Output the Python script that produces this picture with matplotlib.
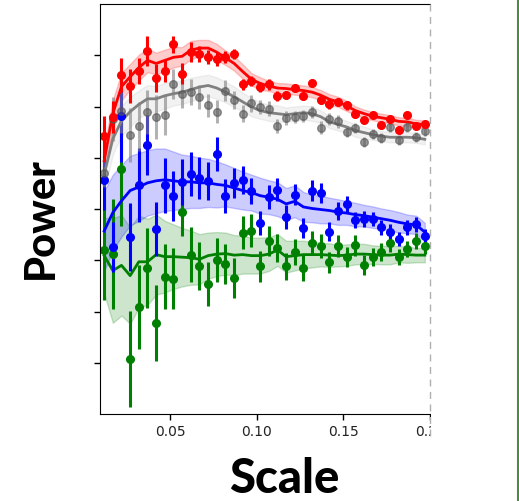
import numpy as np
import matplotlib
matplotlib.use("Agg")
import matplotlib.pyplot as plt
from matplotlib.lines import Line2D
from matplotlib.patches import Rectangle

# scale values (same grid for all four series)
scale = [0.012, 0.017, 0.022, 0.027, 0.032, 0.037, 0.042, 0.047, 0.052, 0.057,
         0.062, 0.067, 0.072, 0.077, 0.082, 0.087, 0.092, 0.097, 0.102, 0.107,
         0.112, 0.117, 0.122, 0.127, 0.132, 0.137, 0.142, 0.147, 0.152, 0.157,
         0.162, 0.167, 0.172, 0.177, 0.182, 0.187, 0.192, 0.197]

# red series
red_pts = [5.42, 5.80, 6.62, 6.40, 6.69, 7.08, 6.56, 6.69, 7.21, 6.64,
           7.06, 7.03, 6.97, 6.93, 6.97, 7.03, 6.43, 6.50, 6.38, 6.43,
           6.20, 6.22, 6.36, 6.20, 6.46, 6.12, 6.04, 6.09, 6.02, 5.86,
           5.73, 5.84, 5.63, 5.75, 5.55, 5.83, 5.61, 5.65]
red_err = [0.39, 0.31, 0.33, 0.33, 0.25, 0.29, 0.27, 0.21, 0.16, 0.20,
           0.20, 0.16, 0.14, 0.14, 0.12, 0.10, 0.10, 0.10, 0.10, 0.10,
           0.10, 0.08, 0.08, 0.08, 0.08, 0.08, 0.08, 0.08, 0.08, 0.08,
           0.06, 0.06, 0.06, 0.06, 0.06, 0.06, 0.06, 0.06]
red_fit = [4.94, 5.86, 6.39, 6.58, 6.76, 6.90, 6.84, 6.90, 6.96, 6.98,
           7.10, 7.14, 7.14, 7.06, 6.95, 6.84, 6.68, 6.53, 6.45, 6.40,
           6.36, 6.35, 6.33, 6.31, 6.28, 6.22, 6.14, 6.09, 6.01, 5.92,
           5.86, 5.81, 5.78, 5.75, 5.71, 5.70, 5.66, 5.65]
red_band = [0.27, 0.27, 0.27, 0.25, 0.25, 0.23, 0.21, 0.21, 0.20, 0.18,
            0.18, 0.16, 0.16, 0.16, 0.14, 0.14, 0.14, 0.12, 0.12, 0.10,
            0.10, 0.10, 0.10, 0.10, 0.10, 0.10, 0.10, 0.10, 0.10, 0.08,
            0.08, 0.08, 0.08, 0.08, 0.08, 0.08, 0.08, 0.08]

# gray series
gray_pts = [4.71, 5.75, 5.92, 5.44, 5.61, 5.90, 5.79, 5.84, 6.44, 6.24,
            6.28, 6.19, 6.02, 5.90, 6.31, 6.13, 5.86, 6.06, 5.99, 5.96,
            5.62, 5.78, 5.80, 5.81, 5.89, 5.59, 5.76, 5.71, 5.50, 5.58,
            5.31, 5.47, 5.39, 5.60, 5.35, 5.60, 5.40, 5.53]
gray_err = [0.29, 0.43, 0.43, 0.53, 0.47, 0.43, 0.43, 0.39, 0.29, 0.27,
            0.25, 0.23, 0.23, 0.23, 0.20, 0.18, 0.16, 0.16, 0.14, 0.14,
            0.14, 0.14, 0.12, 0.12, 0.12, 0.12, 0.12, 0.12, 0.10, 0.10,
            0.10, 0.10, 0.10, 0.10, 0.10, 0.10, 0.10, 0.10]
gray_fit = [4.67, 5.37, 5.72, 5.90, 6.04, 6.15, 6.15, 6.21, 6.25, 6.28,
            6.33, 6.38, 6.41, 6.36, 6.28, 6.19, 6.09, 5.99, 5.92, 5.88,
            5.86, 5.84, 5.86, 5.88, 5.86, 5.80, 5.70, 5.65, 5.60, 5.53,
            5.49, 5.45, 5.42, 5.40, 5.40, 5.40, 5.39, 5.36]
gray_band = [0.31, 0.31, 0.29, 0.29, 0.27, 0.27, 0.25, 0.25, 0.23, 0.23,
             0.23, 0.21, 0.21, 0.21, 0.20, 0.20, 0.18, 0.18, 0.16, 0.16,
             0.16, 0.14, 0.14, 0.14, 0.14, 0.12, 0.12, 0.12, 0.12, 0.12,
             0.12, 0.10, 0.10, 0.10, 0.10, 0.10, 0.10, 0.10]

# blue series
blue_pts = [4.57, 3.26, 5.81, 3.45, 4.47, 5.25, 3.61, 4.46, 4.26, 4.53,
            4.68, 4.61, 4.54, 5.08, 4.25, 4.51, 4.57, 4.35, 3.73, 4.23,
            4.38, 3.84, 4.28, 3.63, 4.36, 4.31, 3.56, 3.96, 4.09, 3.78,
            3.80, 3.81, 3.64, 3.56, 3.42, 3.64, 3.70, 3.47]
blue_err = [0.59, 0.49, 0.90, 0.66, 0.72, 0.59, 0.53, 0.53, 0.49, 0.45,
            0.43, 0.41, 0.37, 0.33, 0.33, 0.29, 0.27, 0.25, 0.23, 0.23,
            0.23, 0.23, 0.21, 0.20, 0.20, 0.20, 0.18, 0.18, 0.16, 0.16,
            0.16, 0.14, 0.14, 0.14, 0.14, 0.14, 0.14, 0.14]
blue_fit = [3.57, 3.93, 4.16, 4.36, 4.43, 4.51, 4.55, 4.57, 4.55, 4.53,
            4.53, 4.51, 4.51, 4.48, 4.46, 4.41, 4.36, 4.32, 4.26, 4.23,
            4.19, 4.10, 4.15, 4.04, 4.01, 3.99, 3.97, 3.94, 3.92, 3.89,
            3.87, 3.84, 3.81, 3.78, 3.74, 3.71, 3.69, 3.55]
blue_band = [0.78, 0.74, 0.70, 0.68, 0.66, 0.64, 0.63, 0.61, 0.57, 0.53,
             0.51, 0.49, 0.47, 0.45, 0.41, 0.39, 0.37, 0.35, 0.35, 0.33,
             0.33, 0.31, 0.31, 0.29, 0.27, 0.27, 0.25, 0.25, 0.23, 0.23,
             0.21, 0.21, 0.20, 0.20, 0.20, 0.18, 0.18, 0.18]

# green series
green_pts = [3.20, 3.12, 4.78, 1.07, 2.08, 2.84, 1.78, 2.68, 2.64, 3.95,
             3.11, 2.89, 2.53, 3.01, 2.92, 2.66, 3.54, 3.58, 2.88, 3.37,
             3.24, 2.88, 3.16, 2.85, 3.34, 3.28, 2.96, 3.28, 3.06, 3.29,
             2.91, 3.06, 3.16, 3.34, 3.06, 3.22, 3.37, 3.28]
green_err = [0.98, 1.07, 1.11, 0.94, 0.82, 0.78, 0.74, 0.64, 0.59, 0.47,
             0.53, 0.47, 0.43, 0.43, 0.39, 0.39, 0.33, 0.33, 0.31, 0.29,
             0.27, 0.27, 0.25, 0.25, 0.23, 0.23, 0.21, 0.21, 0.20, 0.20,
             0.20, 0.18, 0.18, 0.18, 0.16, 0.16, 0.16, 0.16]
green_fit = [3.09, 2.80, 2.90, 2.70, 2.97, 2.97, 3.11, 3.07, 3.07, 3.06,
             3.05, 3.02, 3.09, 3.12, 3.13, 3.10, 3.11, 3.09, 3.09, 3.12,
             3.20, 3.07, 3.09, 3.11, 3.11, 3.11, 3.10, 3.09, 3.10, 3.12,
             3.12, 3.11, 3.10, 3.10, 3.12, 3.11, 3.10, 3.10]
green_band = [0.74, 1.02, 0.98, 0.94, 0.90, 0.84, 0.78, 0.70, 0.63, 0.57,
              0.53, 0.49, 0.45, 0.43, 0.41, 0.39, 0.37, 0.35, 0.35, 0.33,
              0.31, 0.31, 0.29, 0.27, 0.25, 0.23, 0.23, 0.21, 0.21, 0.20,
              0.20, 0.18, 0.18, 0.18, 0.16, 0.16, 0.14, 0.14]

W, H = 519, 502
fig = plt.figure(figsize=(W / 100, H / 100), dpi=100)
ax = fig.add_axes([100 / W, 1 - 415 / H, 330 / W, 410 / H])

x = np.array(scale)

# draw order: green at the bottom, red on top
series = [
    (green_pts, green_err, green_fit, green_band, 'green', 'green', 'green', 1.0),
    (blue_pts, blue_err, blue_fit, blue_band, 'blue', 'blue', 'blue', 1.0),
    (gray_pts, gray_err, gray_fit, gray_band, 'gray', '#555555', 'gray', 0.6),
    (red_pts, red_err, red_fit, red_band, 'red', 'red', 'red', 1.0),
]
for pts, err, fit, band, c, mc, ec, ea in series:
    fit = np.array(fit)
    band = np.array(band)
    ax.fill_between(x, fit - band, fit + band, color=c,
                    alpha=0.1 if c == 'gray' else 0.2, lw=1)
    ax.plot(x, fit, color=c, lw=2)
    ax.errorbar(x, pts, yerr=err, fmt='o', ms=5.5, color=mc, mec=mc,
                ecolor=ec, elinewidth=2.2, capsize=0, alpha=ea)

ax.set_xlim(0.0096, 0.2)
ax.set_ylim(0, 8)
ax.set_xticks([0.05, 0.10, 0.15, 0.20])
ax.set_yticks([1, 2, 3, 4, 5, 6, 7])
ax.set_yticklabels([])
ax.tick_params(axis='both', direction='out', length=4, width=1,
               labelsize=10, labelcolor='#222222')
ax.spines['right'].set_visible(False)

# the picture is cut at the right edge of the axes
fig.add_artist(Rectangle((430.5 / W, 0), 86 / W, 1, transform=fig.transFigure,
                         facecolor='white', edgecolor='none', zorder=10))
fig.add_artist(Line2D([429.5 / W] * 2, [1 - 5 / H, 1 - 440 / H],
                      transform=fig.transFigure, color='#b0b0b0', lw=1,
                      ls=(0, (5, 4)), zorder=11))
fig.add_artist(Line2D([517.5 / W] * 2, [0, 1], transform=fig.transFigure,
                      color='#4c8c3c', lw=1.5, zorder=11))

fig.text(284 / W, 1 - 479 / H, 'Scale', ha='center', va='center',
         fontsize=34, fontweight='black', family=['Lato', 'DejaVu Sans'])
fig.text(41 / W, 1 - 218 / H, 'Power', ha='center', va='center', rotation=90,
         fontsize=30, fontweight='black', family=['Lato', 'DejaVu Sans'])

fig.savefig('out.png', dpi=100)
